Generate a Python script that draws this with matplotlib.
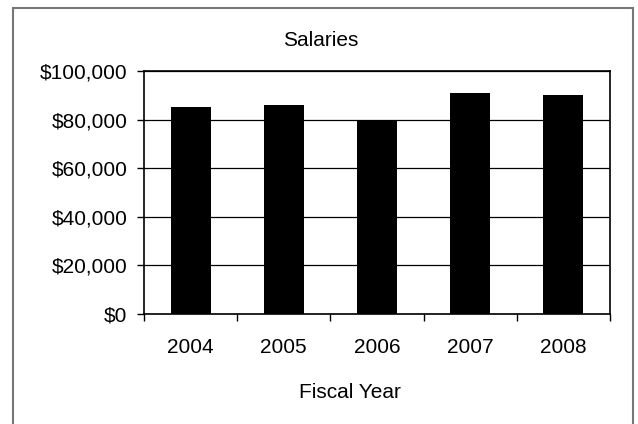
import matplotlib
import matplotlib.pyplot as plt
from matplotlib.patches import Rectangle
from matplotlib.ticker import FuncFormatter

matplotlib.rcParams['font.family'] = ['Liberation Sans', 'DejaVu Sans']
matplotlib.rcParams['font.size'] = 15

years = ['2004', '2005', '2006', '2007', '2008']
salaries = [85000, 86000, 79500, 91000, 90000]

fig = plt.figure(figsize=(6.38, 4.24), dpi=100)
ax = fig.add_axes([144 / 638, 1 - 314 / 424, 466 / 638, 243 / 424])

ax.bar(range(len(years)), salaries, width=0.43, color='black', zorder=3)
ax.set_xlim(-0.5, len(years) - 0.5)
ax.set_ylim(0, 100000)
ax.set_yticks(range(0, 100001, 20000))
ax.yaxis.set_major_formatter(FuncFormatter(lambda v, p: f'${v:,.0f}'))
ax.yaxis.grid(True, color='black', linewidth=0.9, zorder=0)

# x ticks between categories, labels centred
ax.set_xticks([i - 0.5 for i in range(len(years) + 1)])
ax.set_xticklabels([])
ax.set_xticks(range(len(years)), minor=True)
ax.set_xticklabels(years, minor=True)
ax.tick_params(axis='x', which='major', direction='out', length=5, width=1)
ax.tick_params(axis='x', which='minor', length=0, pad=17)
ax.tick_params(axis='y', direction='out', length=5, width=1, pad=7)

for s in ax.spines.values():
    s.set_color('black')
    s.set_linewidth(1.2)

fig.text(321 / 638, 1 - 41 / 424, 'Salaries', ha='center', va='center', fontsize=15)
fig.text(350 / 638, 1 - 393 / 424, 'Fiscal Year', ha='center', va='center', fontsize=15)

# chart frame
fig.patches.append(Rectangle((13 / 638, -0.02), 620 / 638, 1.02 - 8 / 424,
                             transform=fig.transFigure, fill=False,
                             edgecolor='#777777', linewidth=1.5))

fig.savefig('out.png', dpi=100)
